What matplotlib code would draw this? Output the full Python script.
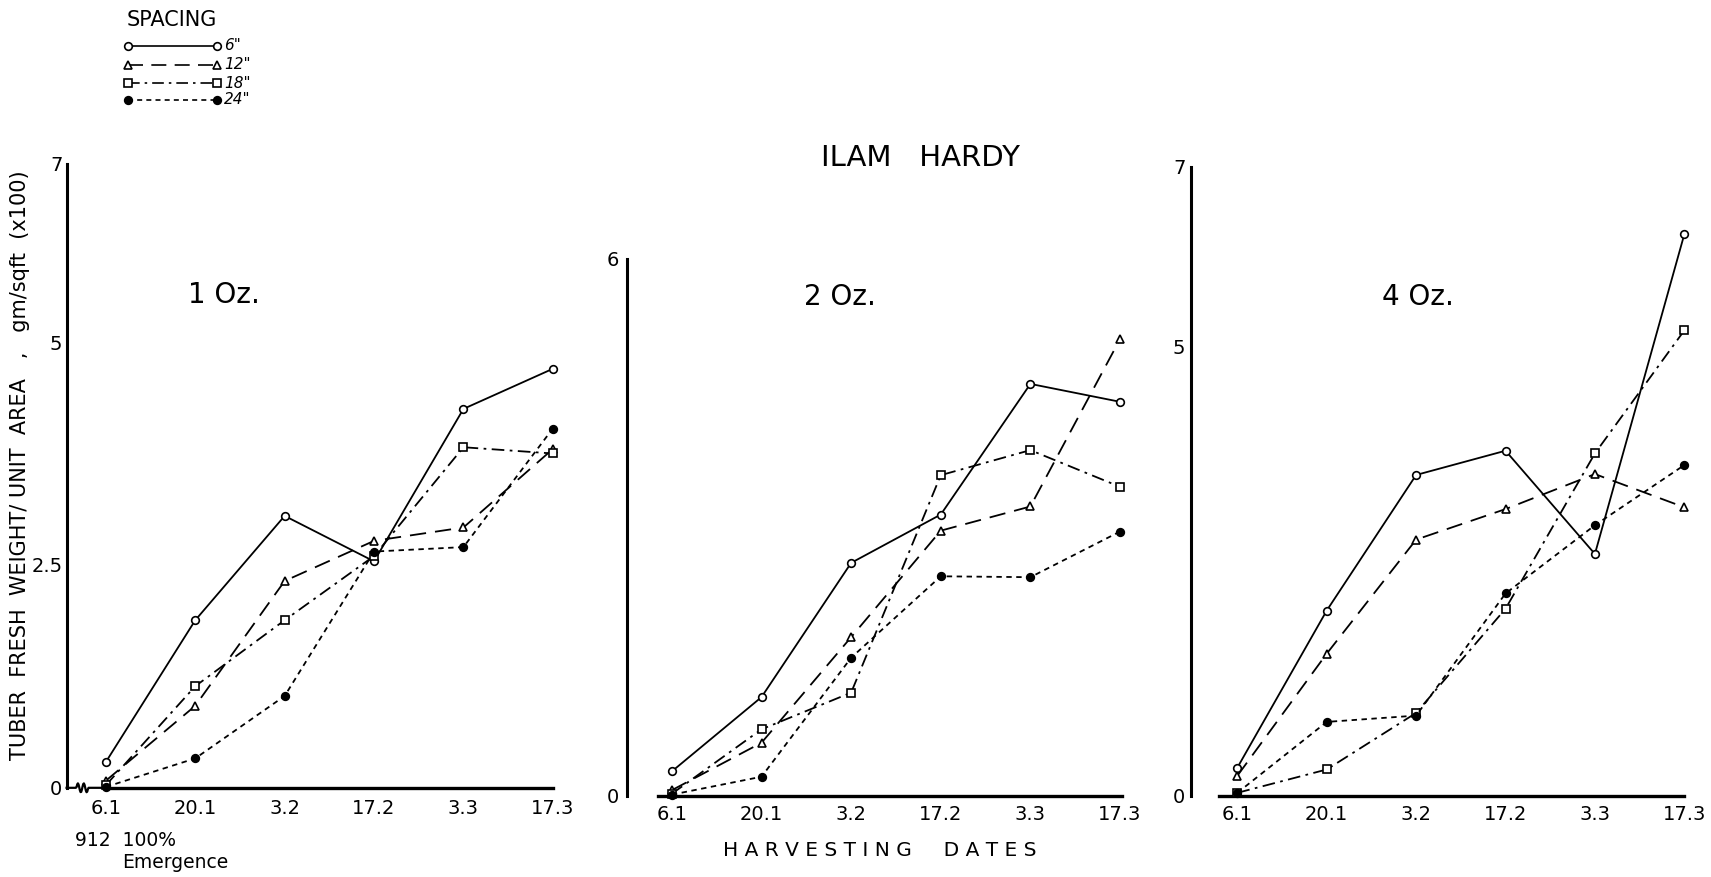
import numpy as np
import matplotlib
matplotlib.use("Agg")
import matplotlib.pyplot as plt
from matplotlib.lines import Line2D

plt.rcParams['font.family'] = ['DejaVu Sans']

# Harvesting dates (day.month)
dates = ["6.1", "20.1", "3.2", "17.2", "3.3", "17.3"]
spacings = ['6"', '12"', '18"', '24"']

# Tuber fresh weight per unit area, gm/sqft (x100)
oz1_6in = [0.29, 1.88, 3.05, 2.54, 4.25, 4.70]
oz1_12in = [0.08, 0.92, 2.32, 2.77, 2.92, 3.80]
oz1_18in = [0.03, 1.14, 1.88, 2.60, 3.82, 3.75]
oz1_24in = [0.01, 0.33, 1.03, 2.65, 2.70, 4.03]

oz2_6in = [0.27, 1.10, 2.60, 3.14, 4.60, 4.40]
oz2_12in = [0.06, 0.59, 1.77, 2.96, 3.23, 5.10]
oz2_18in = [0.02, 0.74, 1.15, 3.58, 3.86, 3.45]
oz2_24in = [0.01, 0.21, 1.54, 2.45, 2.44, 2.95]

oz4_6in = [0.31, 2.06, 3.57, 3.84, 2.69, 6.25]
oz4_12in = [0.22, 1.58, 2.85, 3.19, 3.58, 3.21]
oz4_18in = [0.03, 0.29, 0.92, 2.08, 3.81, 5.18]
oz4_24in = [0.03, 0.82, 0.89, 2.25, 3.01, 3.68]

# line style / marker per spacing
styles = [
    dict(ls='-', marker='o', mfc='white'),
    dict(ls=(0, (9, 5)), marker='^', mfc='white'),
    dict(ls=(0, (7, 3, 1.5, 3)), marker='s', mfc='white'),
    dict(ls=(0, (3, 2.5)), marker='o', mfc='black'),
]

fig = plt.figure(figsize=(17.11, 8.77), dpi=100)


def panel(rect, series, ymax, yticks, yticklabels, label, label_xy,
          xlo, xhi, xstart, xend, xlpad, ylpad):
    ax = fig.add_axes(rect)
    x = list(range(len(dates)))
    for vals, st in zip(series, styles):
        ax.plot(x, vals, color='black', lw=1.3, ls=st['ls'], marker=st['marker'],
                mfc=st['mfc'], mec='black', mew=1.2, ms=5.5, clip_on=False, zorder=3)
    ax.set_ylim(0, ymax)
    ax.set_xlim(xlo, xhi)
    ax.set_xticks(x)
    ax.set_xticklabels(dates, fontsize=14)
    ax.set_yticks(yticks)
    ax.set_yticklabels(yticklabels, fontsize=14)
    ax.tick_params(length=0, axis='x', pad=xlpad)
    ax.tick_params(length=0, axis='y', pad=ylpad)
    for s in ('top', 'right'):
        ax.spines[s].set_visible(False)
    ax.spines['left'].set_linewidth(2.2)
    ax.spines['bottom'].set_linewidth(2.4)
    ax.spines['bottom'].set_bounds(xstart, xend)
    ax.patch.set_alpha(0)
    ax.text(label_xy[0], label_xy[1], label, transform=ax.transAxes,
            fontsize=20, ha='center', va='center')
    return ax


ax1 = panel([0.0389, 0.1017, 0.2842, 0.7116],
            [oz1_6in, oz1_12in, oz1_18in, oz1_24in],
            7, [0, 2.5, 5, 7], ["0", "2.5", "5", "7"], "1 Oz.", (0.323, 0.79),
            -0.44, 5.0, 0.0, 5.0, 8, 3)
ax2 = panel([0.3665, 0.0929, 0.2881, 0.6122],
            [oz2_6in, oz2_12in, oz2_18in, oz2_24in],
            6, [0, 6], ["0", "6"], "2 Oz.", (0.432, 0.928),
            -0.50, 5.0, -0.16, 5.02, 6.5, 6)
ax3 = panel([0.696, 0.0929, 0.2884, 0.7167],
            [oz4_6in, oz4_12in, oz4_18in, oz4_24in],
            7, [0, 5, 7], ["0", "5", "7"], "4 Oz.", (0.461, 0.793),
            -0.52, 5.0, -0.2, 5.0, 6.5, 4)

# axis break on the first panel's date axis, before the first harvest
t = np.linspace(0, 1, 60)
brk_x = -0.44 + 0.44 * t
brk_y = np.where((t > 0.25) & (t < 0.55), 0.05 * np.sin((t - 0.25) / 0.30 * 4 * np.pi), 0.0)
ax1.plot(brk_x, brk_y, color='black', lw=1.6, clip_on=False, zorder=2)

fig.text(0.0115, 0.469, "TUBER  FRESH  WEIGHT/ UNIT  AREA   ,   gm/sqft  (x100)",
         fontsize=15, rotation=90, ha='center', va='center')

fig.text(0.538, 0.82, "ILAM   HARDY", fontsize=21, ha='center', va='center')
fig.text(0.514, 0.03, "H A R V E S T I N G     D A T E S", fontsize=14.5,
         ha='center', va='center')
fig.text(0.0438, 0.042, "912  100%", fontsize=13.5, ha='left', va='center')
fig.text(0.0713, 0.016, "Emergence", fontsize=13.5, ha='left', va='center')

# spacing key
fig.text(0.074, 0.977, "SPACING", fontsize=15, ha='left', va='center')
key_y = [0.948, 0.926, 0.905, 0.886]
for sp, st, yk in zip(spacings, styles, key_y):
    fig.add_artist(Line2D([0.075, 0.127], [yk, yk], transform=fig.transFigure,
                          color='black', lw=1.2, ls=st['ls'], marker=st['marker'],
                          mfc=st['mfc'], mec='black', mew=1.2, ms=5.5))
    fig.text(0.131, yk, sp, fontsize=11, style='italic', ha='left', va='center')

fig.savefig("out.png", dpi=100)
